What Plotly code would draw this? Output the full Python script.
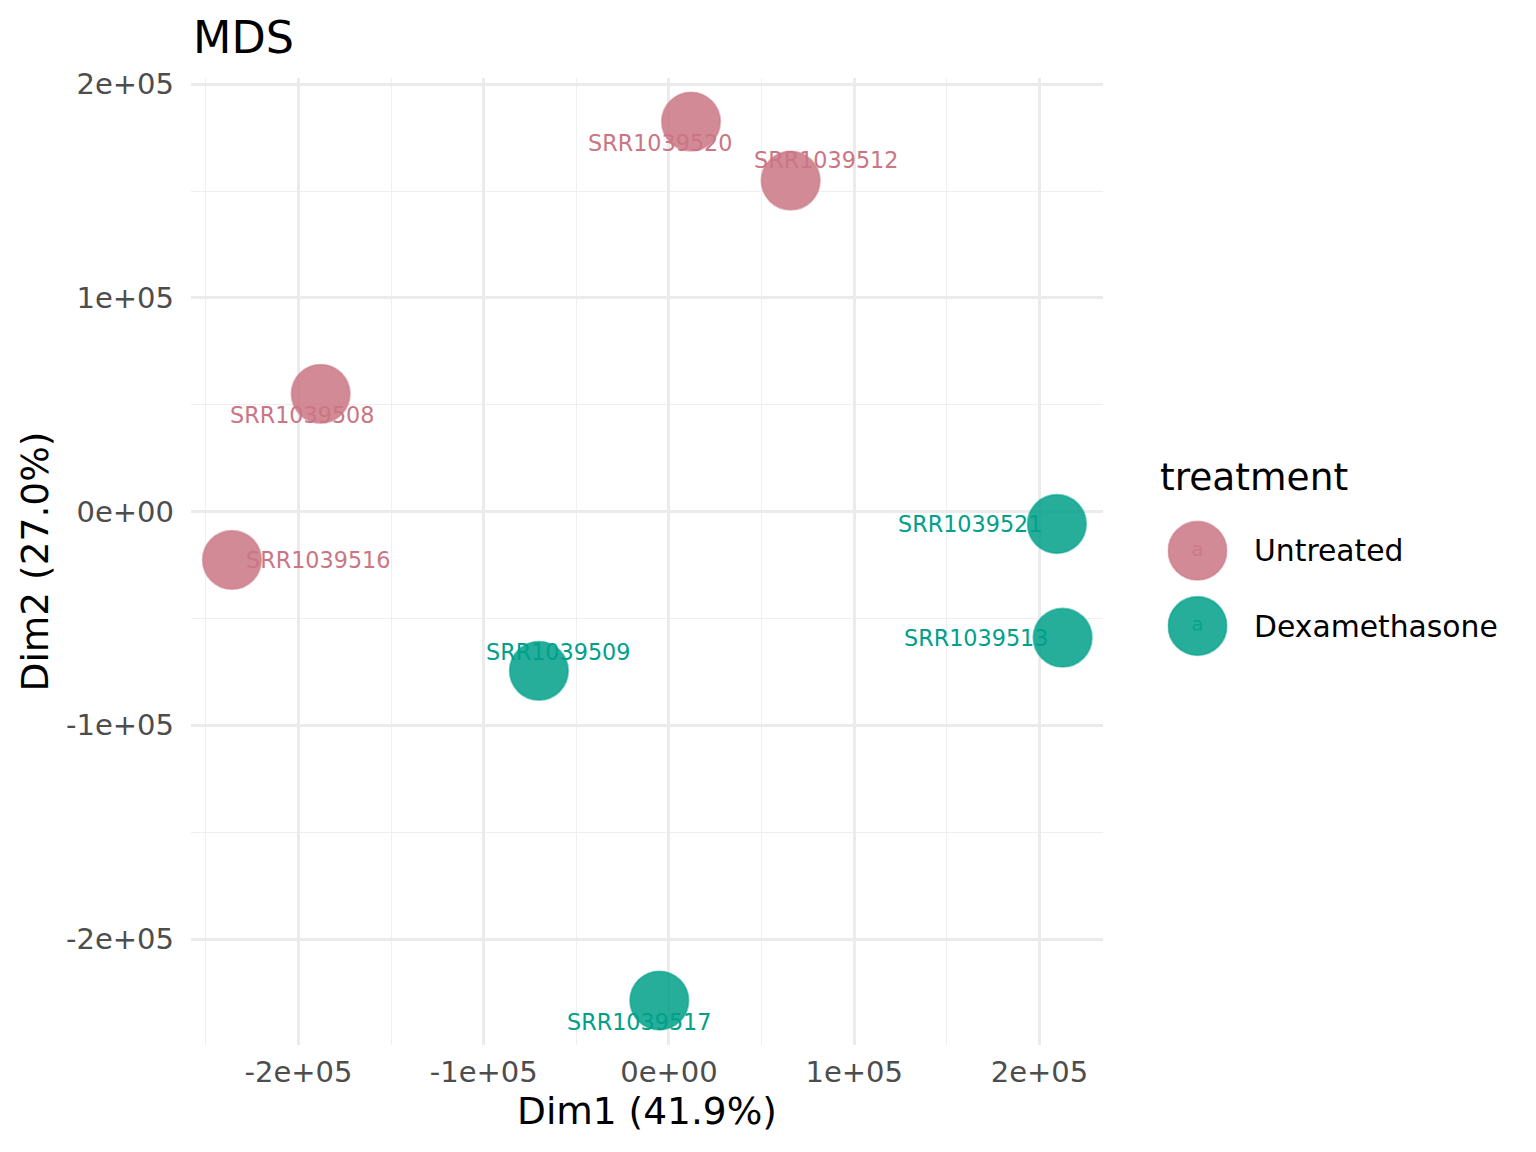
import plotly.graph_objects as go

# ---------------- data ----------------
samples = ["SRR1039508", "SRR1039509", "SRR1039512", "SRR1039513",
           "SRR1039516", "SRR1039517", "SRR1039520", "SRR1039521"]
treatment = ["Untreated", "Dexamethasone", "Untreated", "Dexamethasone",
             "Untreated", "Dexamethasone", "Untreated", "Dexamethasone"]
dim1 = [-188000, -70200, 65700, 212500, -235900, -5200, 11900, 209400]
dim2 = [55100, -74500, 154900, -59000, -22600, -228800, 182500, -5800]

groups = ["Untreated", "Dexamethasone"]
group_colors = {"Untreated": (202, 118, 132), "Dexamethasone": (0, 160, 138)}

tick_vals = [-200000, -100000, 0, 100000, 200000]
tick_text = ["-2e+05", "-1e+05", "0e+00", "1e+05", "2e+05"]

# label offsets (pixels) relative to points, as placed by the repel layout
label_dx = [-19, 19.5, 35, -86.7, 86, -20, -31.5, -86.5]
label_dy = [-21, 19, 20.7, -0.5, 0, -21, -21, 0]

# ---------------- layout geometry ----------------
OFF = 8  # page body margin
W, H = 1536 - OFF, 1152 - OFF
ML, MR, MT, MB = 191 - OFF, 10, 78 - OFF, 107
AW = W - ML - MR
AH = H - MT - MB
plot_right_px = 1103 - OFF
FONT = "DejaVu Sans"


def rgba(c, a):
    return "rgba(%d,%d,%d,%.3f)" % (c[0], c[1], c[2], a)


def hexc(c):
    return "#%02x%02x%02x" % c


fig = go.Figure()

for g in groups:
    idx = [i for i, t in enumerate(treatment) if t == g]
    c = group_colors[g]
    fig.add_trace(go.Scatter(
        x=[dim1[i] for i in idx], y=[dim2[i] for i in idx],
        mode="markers", name=g, showlegend=False,
        marker=dict(size=58.5, color=rgba(c, 0.85),
                    line=dict(width=1.8, color=rgba(c, 0.55))),
        xaxis="x", yaxis="y", hoverinfo="skip",
    ))

annotations = []
for i, s in enumerate(samples):
    c = group_colors[treatment[i]]
    annotations.append(dict(
        x=dim1[i], y=dim2[i], xref="x", yref="y", text=s, showarrow=False,
        xshift=label_dx[i], yshift=label_dy[i],
        font=dict(family=FONT, size=22.3, color=hexc(c)),
        xanchor="center", yanchor="middle",
    ))

# ---------------- custom legend (large keys) ----------------
leg_idx = list(range(len(groups)))
fig.add_trace(go.Scatter(
    x=[0] * len(groups), y=leg_idx, mode="markers+text",
    text=["a"] * len(groups), textposition="middle center",
    textfont=dict(family=FONT, size=20,
                  color=[rgba(group_colors[g], 0.8) for g in groups]),
    marker=dict(size=58.5, color=[rgba(group_colors[g], 0.85) for g in groups],
                line=dict(width=1.8, color=[rgba(group_colors[g], 0.55) for g in groups])),
    xaxis="x2", yaxis="y2", showlegend=False, hoverinfo="skip",
))
for i, g in enumerate(groups):
    annotations.append(dict(
        x=0, y=i, xref="x2", yref="y2", text=g, showarrow=False,
        xanchor="left", yanchor="middle", xshift=54,
        font=dict(family=FONT, size=29.8, color="black"),
    ))
annotations.append(dict(
    x=0, y=-0.98, xref="x2", yref="y2", text="treatment", showarrow=False,
    xanchor="left", yanchor="middle", xshift=-40,
    font=dict(family=FONT, size=37.5, color="black"),
))

# legend axis geometry: key centre ~1197.5 px, item spacing ~75.3 px
key_cx = 1197.5 - OFF
x2_dom = [(key_cx - 30 - ML) / AW, (key_cx + 30 - ML) / AW]
spacing = 75.3
first_y = 550.7 - OFF
top_val = -(first_y - MT) / spacing
bot_val = top_val + AH / spacing

fig.update_layout(
    width=W, height=H,
    margin=dict(l=ML, r=MR, t=MT, b=MB),
    paper_bgcolor="white", plot_bgcolor="white",
    font=dict(family=FONT, color="black"),
    title=dict(text="MDS", x=(193 - OFF) / W, xanchor="left", xref="container",
               y=1 - (37 - OFF) / H, yanchor="middle", yref="container",
               font=dict(family=FONT, size=44.5, color="black")),
    xaxis=dict(
        domain=[0, (plot_right_px - ML) / AW],
        range=[-258000, 234300],
        tickvals=tick_vals, ticktext=tick_text,
        tickfont=dict(family=FONT, size=29, color="#4D4D4D"),
        showgrid=True, gridcolor="#EBEBEB", gridwidth=2.6,
        minor=dict(dtick=50000, tick0=0, showgrid=True, gridcolor="#EFEFEF", gridwidth=1.3),
        zeroline=False, showline=False, ticks="",
        ticklabelstandoff=7,
        title=dict(text="Dim1 (41.9%)", font=dict(family=FONT, size=37.5, color="black"),
                   standoff=9),
    ),
    yaxis=dict(
        domain=[0, 1],
        range=[-249600, 202900],
        tickvals=tick_vals, ticktext=tick_text,
        tickfont=dict(family=FONT, size=29, color="#4D4D4D"),
        showgrid=True, gridcolor="#EBEBEB", gridwidth=2.6,
        minor=dict(dtick=50000, tick0=0, showgrid=True, gridcolor="#EFEFEF", gridwidth=1.3),
        zeroline=False, showline=False, ticks="",
        ticklabelstandoff=16,
        title=dict(text="Dim2 (27.0%)", font=dict(family=FONT, size=37.5, color="black"),
                   standoff=5),
    ),
    xaxis2=dict(domain=x2_dom, range=[-1, 1], visible=False, anchor="y2"),
    yaxis2=dict(domain=[0, 1], range=[bot_val, top_val], visible=False, anchor="x2"),
    annotations=annotations,
    showlegend=False,
)

fig.write_html("out.html")
